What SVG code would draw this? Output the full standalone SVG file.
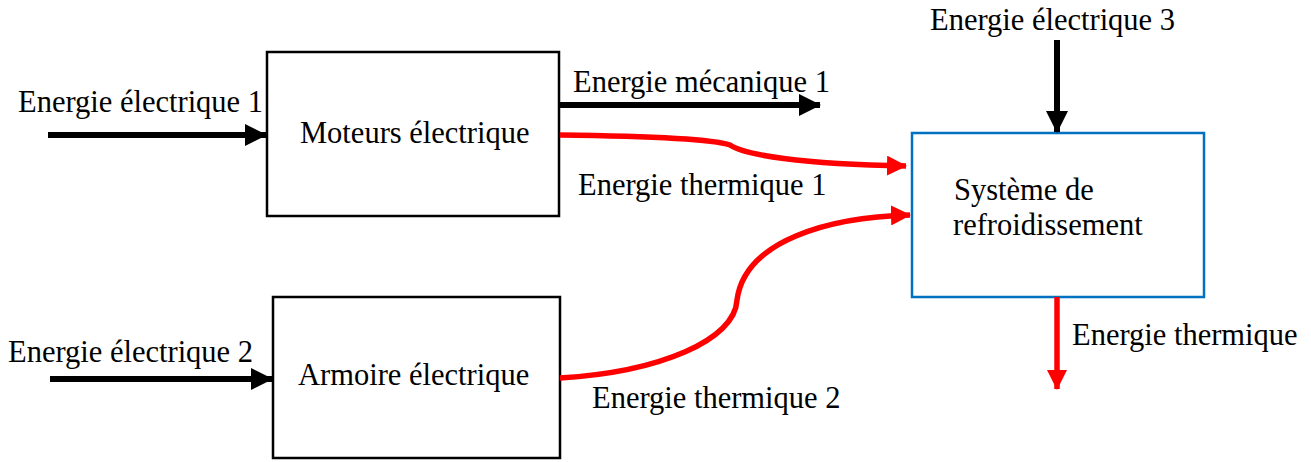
<svg xmlns="http://www.w3.org/2000/svg" width="1311" height="462" viewBox="0 0 1311 462">
<style>
text{font-family:"Liberation Serif","Times New Roman",serif;font-size:30.5px;fill:#000}
.box{fill:#fff;stroke:#000;stroke-width:2.5}
.blue{fill:#fff;stroke:#0070C0;stroke-width:2.5}
.blk{stroke:#000;stroke-width:6;fill:none}
.red{stroke:#FF0000;stroke-width:5.5;fill:none}
</style>
<defs>
<marker id="ab" markerUnits="userSpaceOnUse" markerWidth="22" markerHeight="22" refX="21" refY="11" orient="auto"><path d="M0,0 L22,11 L0,22 Z" fill="#000"/></marker>
<marker id="ar" markerUnits="userSpaceOnUse" markerWidth="20" markerHeight="20" refX="19" refY="10" orient="auto"><path d="M0,0 L20,10 L0,20 Z" fill="#FF0000"/></marker>
</defs>
<g id="moteurs"><rect class="box" x="267" y="52" width="292" height="164"/><text x="300" y="143">Moteurs électrique</text></g>
<g id="armoire"><rect class="box" x="273" y="297" width="287" height="161"/><text x="298" y="385">Armoire électrique</text></g>
<g id="refroid"><rect class="blue" x="912" y="133" width="292" height="164"/><text x="954" y="200">Système de</text><text x="953" y="235">refroidissement</text></g>
<g id="connectors">
<line class="blk" x1="48" y1="135" x2="266" y2="135" marker-end="url(#ab)"/>
<line class="blk" x1="50" y1="379" x2="272" y2="379" marker-end="url(#ab)"/>
<line class="blk" x1="560" y1="105" x2="820" y2="105" marker-end="url(#ab)"/>
<line class="blk" x1="1057" y1="40" x2="1057" y2="132" marker-end="url(#ab)"/>
<path class="red" d="M560,135 C640,136 710,138 730,145 C745,155 800,164 906,166" marker-end="url(#ar)"/>
<path class="red" d="M560,378 C660,372 735,340 737,300 C745,240 830,217 910,215" marker-end="url(#ar)"/>
<line class="red" x1="1057" y1="297" x2="1057" y2="389" marker-end="url(#ar)"/>
</g>
<g id="labels">
<text x="18" y="112">Energie électrique 1</text>
<text x="8" y="362">Energie électrique 2</text>
<text x="930" y="30">Energie électrique 3</text>
<text x="573" y="92">Energie mécanique 1</text>
<text x="578" y="195">Energie thermique 1</text>
<text x="592" y="408">Energie thermique 2</text>
<text x="1072" y="345">Energie thermique</text>
</g>
</svg>
